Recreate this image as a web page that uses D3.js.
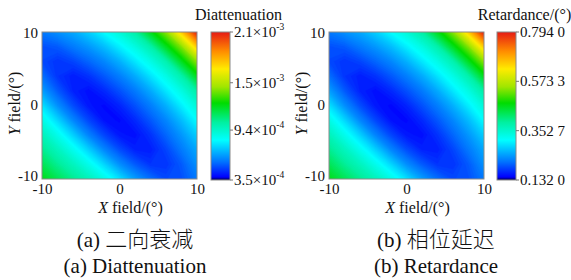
<!DOCTYPE html>
<html>
<head>
<meta charset="utf-8">
<script src="https://cdn.jsdelivr.net/npm/d3@7"></script>
<style>
  body { margin: 0; background: #fff; }
  svg text { font-family: "Liberation Serif", "DejaVu Serif", serif; fill: #111; }
</style>
</head>
<body>
<svg id="chart"></svg>
<script>
// Field grid (degrees), rows run top (Y=10) to bottom (Y=-10)
const xField = [-10, -8, -6, -4, -2, 0, 2, 4, 6, 8, 10];
const yField = [10, 8, 6, 4, 2, 0, -2, -4, -6, -8, -10];

// Diattenuation, in units of 1e-4
const diattenuation = [
  [5.78, 6.21, 6.65, 7.35, 8.23, 9.10, 10.20, 12.20, 14.25, 17.35, 21.00],
  [5.08, 5.25, 5.78, 6.30, 7.00, 7.93, 8.87, 10.05, 12.10, 14.18, 17.35],
  [4.99, 4.64, 4.90, 5.43, 6.00, 6.77, 7.77, 8.77, 9.98, 12.10, 14.25],
  [5.60, 4.64, 4.29, 4.60, 5.20, 5.85, 6.67, 7.70, 8.77, 10.05, 12.20],
  [6.48, 5.25, 4.34, 4.06, 4.45, 5.09, 5.78, 6.67, 7.77, 8.87, 10.20],
  [7.71, 6.18, 5.02, 4.18, 3.96, 4.38, 5.09, 5.85, 6.77, 7.93, 9.10],
  [8.80, 7.48, 6.02, 4.92, 4.11, 3.96, 4.45, 5.20, 6.00, 7.00, 8.23],
  [9.75, 8.65, 7.37, 5.95, 4.92, 4.18, 4.06, 4.60, 5.43, 6.30, 7.35],
  [10.57, 9.65, 8.58, 7.37, 6.02, 5.02, 4.34, 4.29, 4.90, 5.78, 6.65],
  [11.40, 10.50, 9.65, 8.65, 7.48, 6.18, 5.25, 4.64, 4.64, 5.25, 6.21],
  [12.26, 11.40, 10.57, 9.75, 8.80, 7.71, 6.48, 5.60, 4.99, 5.08, 5.78]
];

// Retardance, degrees
const retardance = [
  [0.218, 0.235, 0.251, 0.278, 0.311, 0.344, 0.386, 0.461, 0.539, 0.656, 0.794],
  [0.192, 0.198, 0.218, 0.238, 0.264, 0.299, 0.335, 0.380, 0.457, 0.536, 0.656],
  [0.188, 0.175, 0.185, 0.205, 0.227, 0.256, 0.294, 0.331, 0.377, 0.457, 0.539],
  [0.211, 0.175, 0.162, 0.174, 0.196, 0.221, 0.252, 0.291, 0.331, 0.380, 0.461],
  [0.245, 0.198, 0.164, 0.153, 0.168, 0.192, 0.218, 0.252, 0.294, 0.335, 0.386],
  [0.291, 0.233, 0.190, 0.158, 0.149, 0.165, 0.192, 0.221, 0.256, 0.299, 0.344],
  [0.332, 0.283, 0.227, 0.186, 0.155, 0.149, 0.168, 0.196, 0.227, 0.264, 0.311],
  [0.368, 0.326, 0.279, 0.225, 0.186, 0.158, 0.153, 0.174, 0.205, 0.238, 0.278],
  [0.399, 0.365, 0.324, 0.279, 0.227, 0.190, 0.164, 0.162, 0.185, 0.218, 0.251],
  [0.430, 0.396, 0.365, 0.326, 0.283, 0.233, 0.198, 0.175, 0.175, 0.198, 0.235],
  [0.463, 0.430, 0.399, 0.368, 0.332, 0.291, 0.245, 0.211, 0.188, 0.192, 0.218]
];

// Axis ticks and colorbar ticks
const fieldTicks = [-10, 0, 10];
const diaDomain = [3.5, 21];
const diaTicks = [3.5, 9.4, 15, 21];
const diaTickText = ["3.5×10", "9.4×10", "1.5×10", "2.1×10"];
const diaTickExp = ["-4", "-4", "-3", "-3"];
const retDomain = [0.132, 0.794];
const retTicks = [0.132, 0.3527, 0.5733, 0.794];
const retTickText = ["0.132 0", "0.352 7", "0.573 3", "0.794 0"];

const serif = "'Liberation Serif', 'DejaVu Serif', serif";
const width = 571, height = 280;
const svg = d3.select("#chart").attr("width", width).attr("height", height)
    .attr("font-family", serif);
svg.append("rect").attr("width", width).attr("height", height).attr("fill", "#fff");

// jet-like colormap, position 0..1 along the colorbar
const cmapStops = [0, 0.02, 0.12, 0.27, 0.39, 0.52, 0.63, 0.75, 0.87, 1];
const cmapColors = ["#00004a", "#0000ff", "#0070ff", "#00ffff", "#00f0a0",
                    "#00dc00", "#a0e600", "#ffeb00", "#ff8c00", "#e61a14"];
const cmap = d3.scaleLinear().domain(cmapStops).range(cmapColors).clamp(true);

const defs = svg.append("defs");
const grad = defs.append("linearGradient").attr("id", "cbar")
    .attr("x1", 0).attr("y1", 1).attr("x2", 0).attr("y2", 0);
cmapStops.forEach((s, i) => grad.append("stop").attr("offset", s).attr("stop-color", cmapColors[i]));

function drawPanel(p) {
    const x = d3.scaleLinear().domain([-10, 10]).range([p.left, p.left + 155]);
    const y = d3.scaleLinear().domain([-10, 10]).range([179, 32]);
    const norm = d3.scaleLinear().domain(p.domain).range([0, 1]);

    // clip the contour fills to the plot box
    defs.append("clipPath").attr("id", "clip" + p.id)
        .append("rect").attr("x", x(-10)).attr("y", y(10))
        .attr("width", x(10) - x(-10)).attr("height", y(-10) - y(10));

    // grid index -> field degrees (samples sit at cell centres)
    const gx = d3.scaleLinear().domain([0.5, xField.length - 0.5]).range([xField[0], xField[xField.length - 1]]);
    const gy = d3.scaleLinear().domain([0.5, yField.length - 0.5]).range([yField[0], yField[yField.length - 1]]);
    const proj = d3.geoTransform({
        point: function(px, py) { this.stream.point(x(gx(px)), y(gy(py))); }
    });
    const path = d3.geoPath(proj);

    const levels = 140;
    const step = (p.domain[1] - p.domain[0]) / levels;
    const thresholds = d3.range(levels).map(i => p.domain[0] + i * step);
    const contours = d3.contours()
        .size([xField.length, yField.length])
        .thresholds(thresholds)(p.values.flat());

    svg.append("g").attr("clip-path", `url(#clip${p.id})`)
        .selectAll("path").data(contours).join("path")
        .attr("d", path)
        .attr("fill", d => cmap(norm(d.value + step / 2)))
        .attr("stroke", d => cmap(norm(d.value + step / 2)))
        .attr("stroke-width", 0.3);

    // plot border
    svg.append("rect").attr("x", x(-10)).attr("y", y(10))
        .attr("width", x(10) - x(-10)).attr("height", y(-10) - y(10))
        .attr("fill", "none").attr("stroke", "#8a8a8a").attr("stroke-width", 1);

    // axes (labels only); y labels sit a little inside the box ends
    const yLab = y.copy().range([175.5, 32.5]);
    const ax = svg.append("g").attr("transform", `translate(0,${y(-10)})`)
        .call(d3.axisBottom(x).tickValues(fieldTicks).tickSize(0).tickPadding(4).tickFormat(d => String(d)));
    const ay = svg.append("g").attr("transform", `translate(${x(-10) - 1},0)`)
        .call(d3.axisLeft(yLab).tickValues(fieldTicks).tickSize(0).tickPadding(3).tickFormat(d => String(d)));
    [ax, ay].forEach(a => {
        a.attr("font-family", serif);
        a.select(".domain").remove();
        a.selectAll("text").attr("font-size", 15).attr("fill", "#111")
            .attr("font-family", serif);
    });
    ay.selectAll("text").attr("dy", "0.34em");

    // axis titles
    const xt = svg.append("text").attr("x", x(0) + 11).attr("y", 213)
        .attr("text-anchor", "middle").attr("font-size", 16);
    xt.append("tspan").attr("font-style", "italic").text("X");
    xt.append("tspan").text(" field/(°)");

    const yt = svg.append("text")
        .attr("transform", `translate(${p.left - 22},${y(0) - 2}) rotate(-90)`)
        .attr("text-anchor", "middle").attr("font-size", 16);
    yt.append("tspan").attr("font-style", "italic").text("Y");
    yt.append("tspan").text(" field/(°)");

    // colorbar
    const cbx = p.cbLeft, cbw = 19;
    const cy = d3.scaleLinear().domain(p.domain).range([180, 32]);
    svg.append("rect").attr("x", cbx).attr("y", cy(p.domain[1]))
        .attr("width", cbw).attr("height", cy(p.domain[0]) - cy(p.domain[1]))
        .attr("fill", "url(#cbar)").attr("stroke", "#8a8a8a").attr("stroke-width", 1);

    const cticks = svg.append("g").selectAll("g").data(p.ticks).join("g")
        .attr("transform", d => `translate(${cbx + cbw},${cy(d)})`);
    cticks.append("line").attr("x1", 0).attr("x2", 3).attr("stroke", "#777");
    const ctext = cticks.append("text").attr("x", 4).attr("dy", "0.34em").attr("font-size", 15);
    ctext.append("tspan").text((d, i) => p.tickText[i]);
    if (p.tickExp) {
        ctext.append("tspan").attr("font-size", 9.5).attr("dy", "-0.75em")
            .text((d, i) => p.tickExp[i]);
    }

    svg.append("text").attr("x", cbx + cbw / 2 + 18).attr("y", 20)
        .attr("text-anchor", "middle").attr("font-size", 16).text(p.cbTitle);

    // captions
    const c1 = svg.append("text").attr("x", p.capX).attr("y", 247)
        .attr("text-anchor", "middle").attr("font-size", 21);
    c1.append("tspan").text(p.capLabel + " ");
    c1.append("tspan").attr("font-family", "'Noto Sans CJK SC'").attr("font-weight", 300)
        .attr("font-size", 22).text(p.capZh);
    svg.append("text").attr("x", p.capX).attr("y", 273)
        .attr("text-anchor", "middle").attr("font-size", 21)
        .text(p.capLabel + " " + p.capEn);
}

drawPanel({
    id: "a", left: 42, cbLeft: 211, values: diattenuation, domain: diaDomain,
    ticks: diaTicks, tickText: diaTickText, tickExp: diaTickExp, cbTitle: "Diattenuation",
    capX: 135, capLabel: "(a)", capZh: "二向衰减", capEn: "Diattenuation"
});

drawPanel({
    id: "b", left: 329, cbLeft: 497, values: retardance, domain: retDomain,
    ticks: retTicks, tickText: retTickText, tickExp: null, cbTitle: "Retardance/(°)",
    capX: 436, capLabel: "(b)", capZh: "相位延迟", capEn: "Retardance"
});
</script>
</body>
</html>
